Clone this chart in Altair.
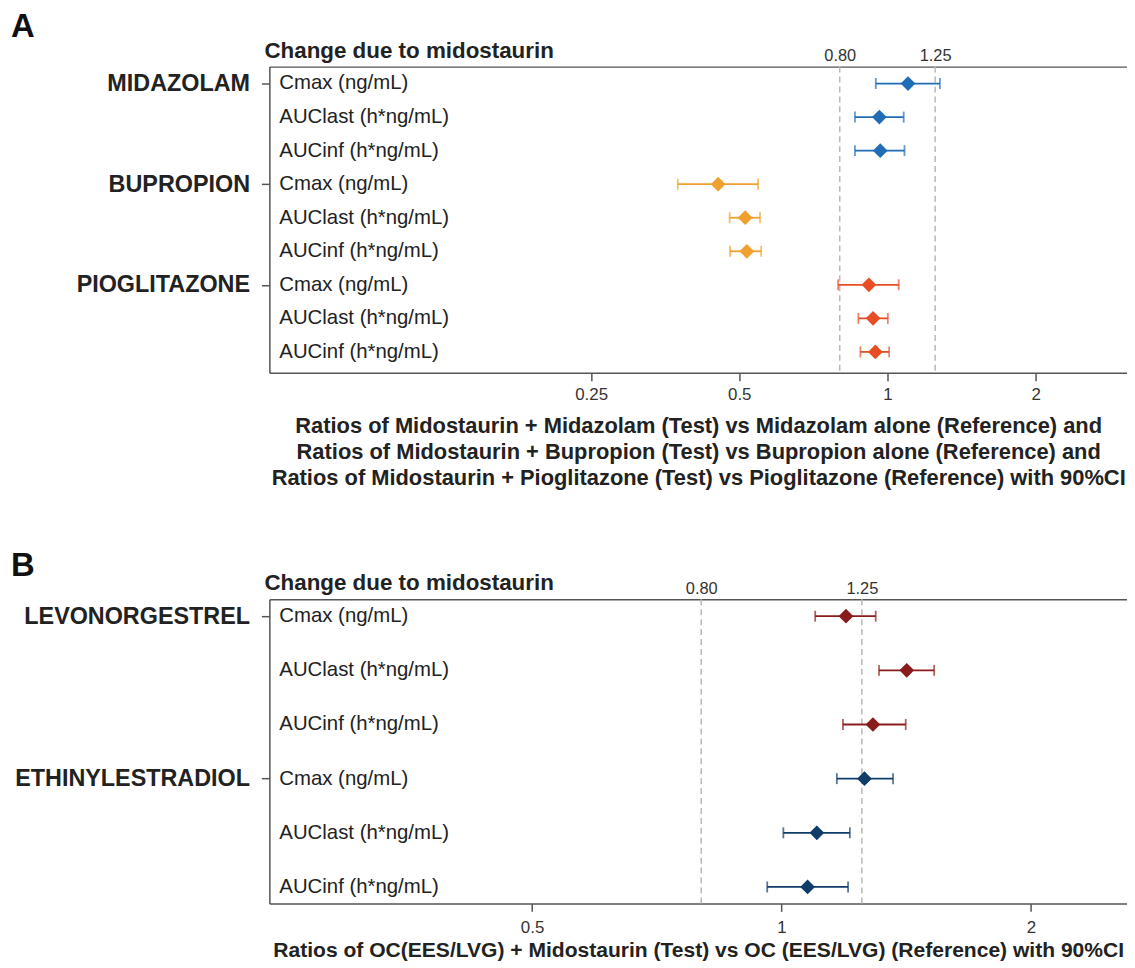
import altair as alt
import pandas as pd

FONT = "Liberation Sans"

PARAMS = ["Cmax (ng/mL)", "AUClast (h*ng/mL)", "AUCinf (h*ng/mL)"]
REF_LINES = [0.80, 1.25]

# ---------------- Panel A ----------------
a_drugs = ["MIDAZOLAM"] * 3 + ["BUPROPION"] * 3 + ["PIOGLITAZONE"] * 3
a_params = PARAMS * 3
a_est = [1.101, 0.963, 0.967, 0.453, 0.514, 0.518, 0.917, 0.935, 0.945]
a_lo = [0.947, 0.859, 0.859, 0.375, 0.478, 0.479, 0.794, 0.873, 0.881]
a_hi = [1.278, 1.079, 1.083, 0.546, 0.551, 0.554, 1.054, 1.002, 1.008]
a_colors = {"MIDAZOLAM": "#1f6db4", "BUPROPION": "#f0a02c", "PIOGLITAZONE": "#e84e26"}
a_ticks = [0.25, 0.5, 1, 2]
a_title = [
    "Ratios of Midostaurin + Midazolam (Test) vs Midazolam alone (Reference) and",
    "Ratios of Midostaurin + Bupropion (Test) vs Bupropion alone (Reference) and",
    "Ratios of Midostaurin + Pioglitazone (Test) vs Pioglitazone (Reference) with 90%CI",
]

# ---------------- Panel B ----------------
b_drugs = ["LEVONORGESTREL"] * 3 + ["ETHINYLESTRADIOL"] * 3
b_params = PARAMS * 2
b_est = [1.196, 1.416, 1.289, 1.259, 1.103, 1.075]
b_lo = [1.098, 1.311, 1.186, 1.166, 1.005, 0.961]
b_hi = [1.299, 1.528, 1.412, 1.363, 1.209, 1.203]
b_colors = {"LEVONORGESTREL": "#8b1c1c", "ETHINYLESTRADIOL": "#0f3c68"}
b_ticks = [0.5, 1, 2]
b_title = "Ratios of OC(EES/LVG) + Midostaurin (Test) vs OC (EES/LVG) (Reference) with 90%CI"

HEADER = "Change due to midostaurin"

AXIS_COLOR = "#555555"
TEXT_COLOR = "#222222"


def panel(letter, drugs, params, est, lo, hi, colors, ticks, xdomain, ydomain,
          title, title_size, label_padding, title_padding, letter_y, header_y,
          width, height):
    df = pd.DataFrame({"drug": drugs, "param": params, "est": est, "lo": lo, "hi": hi})
    df["row"] = list(range(len(df)))
    df["color"] = df["drug"].map(colors)

    group_rows = [i for i, p in enumerate(params) if p.startswith("Cmax")]
    expr = "''"
    for i in reversed(group_rows):
        expr = f"datum.value == {i} ? '{drugs[i]}' : " + expr

    xscale = alt.Scale(type="log", domain=xdomain, nice=False, zero=False)
    yenc = alt.Y(
        "row:Q",
        scale=alt.Scale(domain=ydomain, reverse=True, nice=False, zero=False),
        axis=alt.Axis(values=group_rows, labelExpr=expr, title=None, grid=False,
                      tickSize=8, tickColor=AXIS_COLOR, tickWidth=1.5,
                      domainColor=AXIS_COLOR, domainWidth=1.5,
                      labelFontSize=23.5, labelFontWeight="bold", labelColor=TEXT_COLOR,
                      labelPadding=12, labelLimit=0),
    )
    col = alt.Color("color:N", scale=None)
    base = alt.Chart(df)

    refs = alt.Chart(pd.DataFrame({"ref": REF_LINES})).mark_rule(
        strokeDash=[6, 4], color="#b8b8b8", strokeWidth=1.5
    ).encode(
        x=alt.X("ref:Q", scale=xscale,
                axis=alt.Axis(orient="top", values=REF_LINES,
                              labelExpr="format(datum.value, '.2f')", title=None,
                              grid=False, tickSize=0, labelFontSize=16.5,
                              labelColor="#333333", labelPadding=3,
                              domainColor=AXIS_COLOR, domainWidth=1.5))
    )
    ci = base.mark_rule(strokeWidth=1.8).encode(
        x=alt.X("lo:Q", scale=xscale, axis=None), x2="hi:Q", y=yenc, color=col)
    cap_lo = base.mark_tick(orient="vertical", size=11, thickness=1.8).encode(
        x=alt.X("lo:Q", scale=xscale, axis=None), y=yenc, color=col)
    cap_hi = base.mark_tick(orient="vertical", size=11, thickness=1.8).encode(
        x=alt.X("hi:Q", scale=xscale, axis=None), y=yenc, color=col)
    pts = base.mark_point(shape="diamond", filled=True, size=220, opacity=1).encode(
        x=alt.X("est:Q", scale=xscale,
                axis=alt.Axis(orient="bottom", values=ticks,
                              labelExpr="'' + datum.value", title=title, grid=False,
                              tickSize=8, tickColor=AXIS_COLOR, tickWidth=1.5,
                              domainColor=AXIS_COLOR, domainWidth=1.5,
                              labelFontSize=17, labelColor="#333333",
                              labelPadding=label_padding,
                              titleFontSize=title_size, titleFontWeight="bold",
                              titleColor=TEXT_COLOR, titlePadding=title_padding,
                              titleLineHeight=26.5)),
        y=yenc, color=col)
    labels = base.mark_text(align="left", baseline="middle", fontSize=20.5,
                            color=TEXT_COLOR).encode(
        x=alt.value(10), y=yenc, text="param:N")
    letter_t = alt.Chart(pd.DataFrame({"t": [letter]})).mark_text(
        align="left", baseline="alphabetic", fontSize=33, fontWeight="bold",
        color="#111111").encode(x=alt.value(-260), y=alt.value(letter_y), text="t:N")
    header_t = alt.Chart(pd.DataFrame({"t": [HEADER]})).mark_text(
        align="left", baseline="alphabetic", fontSize=22.5, fontWeight="bold",
        color=TEXT_COLOR).encode(x=alt.value(-5), y=alt.value(header_y), text="t:N")

    return alt.layer(refs, ci, cap_lo, cap_hi, pts, labels, letter_t, header_t).resolve_axis(
        x="independent").properties(width=width, height=height)


pA = panel("A", a_drugs, a_params, a_est, a_lo, a_hi, a_colors, a_ticks,
           [0.0555, 3.067], [-0.504, 8.62], a_title, 22, 6, 13, -30, -9, 863, 308)
pB = panel("B", b_drugs, b_params, b_est, b_lo, b_hi, b_colors, b_ticks,
           [0.2410, 2.611], [-0.312, 5.303], b_title, 21.2, 8, 4, -23, -9, 863, 306)

chart = alt.vconcat(pA, pB, spacing=62).properties(
    padding={"left": 3, "top": 0, "right": 0, "bottom": 0}
).configure(font=FONT).configure_view(stroke=None)

chart.save("out.html", embed_options={"renderer": "svg", "actions": False})
